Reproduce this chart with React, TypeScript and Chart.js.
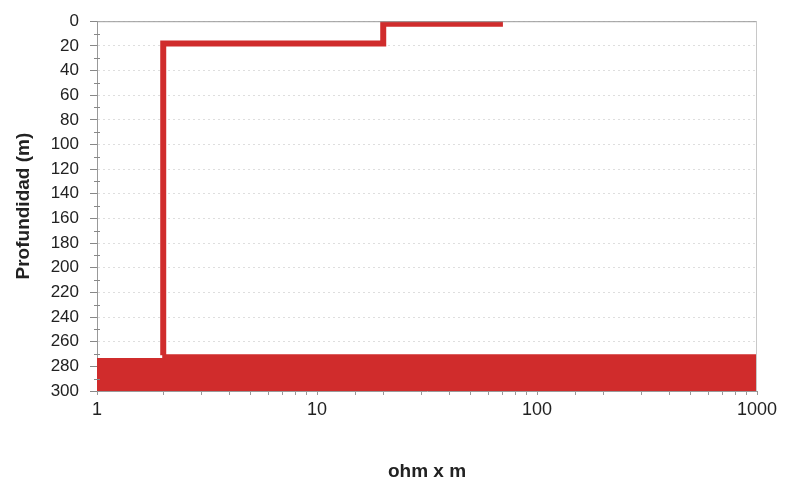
import React, { useEffect, useRef } from "react";
import { Chart, registerables } from "chart.js";

Chart.register(...registerables);

// Step profile: resistivity (ohm x m) vs depth (m)
const profileResistivity = [70, 20, 20, 2, 2];
const profileDepth = [2, 2, 18, 18, 271];

// Bottom filled layer
const layerResistivity = [1, 2, 2, 1000];
const layerDepth = [274, 274, 271, 271];
const layerBottom = 300;

const depthMin = 0;
const depthMax = 300;
const depthStep = 20;
const resMin = 1;
const resMax = 1000;

const RED = "rgb(208,44,44)";

const framePlugin = {
  id: "frame",
  afterDatasetsDraw(chart: any) {
    const { ctx, chartArea, scales } = chart;
    const y = scales.y;
    ctx.save();
    // top and right frame lines
    ctx.strokeStyle = "#9a9a9a";
    ctx.lineWidth = 1;
    ctx.beginPath();
    ctx.moveTo(chartArea.left, chartArea.top + 0.5);
    ctx.lineTo(chartArea.right, chartArea.top + 0.5);
    ctx.stroke();
    ctx.strokeStyle = "#c8c8c8";
    ctx.beginPath();
    ctx.moveTo(chartArea.right - 0.5, chartArea.top);
    ctx.lineTo(chartArea.right - 0.5, chartArea.bottom);
    ctx.stroke();
    // minor y ticks
    ctx.strokeStyle = "#888";
    for (let v = depthMin + depthStep / 2; v < depthMax; v += depthStep) {
      const py = Math.round(y.getPixelForValue(v)) + 0.5;
      ctx.beginPath();
      ctx.moveTo(chartArea.left - 3, py);
      ctx.lineTo(chartArea.left + 3, py);
      ctx.stroke();
    }
    ctx.restore();
  },
};

export default function App() {
  const ref = useRef<HTMLCanvasElement>(null);
  useEffect(() => {
    if (!ref.current) return;
    const chart = new Chart(ref.current, {
      type: "line",
      data: {
        datasets: [
          {
            data: profileResistivity.map((x, i) => ({ x, y: profileDepth[i] })),
            borderColor: RED,
            borderWidth: 6,
            pointRadius: 0,
            fill: false,
            tension: 0,
            borderCapStyle: "butt",
            borderJoinStyle: "miter",
          },
          {
            data: layerResistivity.map((x, i) => ({ x, y: layerDepth[i] })),
            borderColor: RED,
            backgroundColor: RED,
            borderWidth: 2,
            pointRadius: 0,
            fill: { value: layerBottom },
            tension: 0,
          },
        ],
      },
      options: {
        animation: false,
        responsive: false,
        maintainAspectRatio: false,
        parsing: false as any,
        layout: { padding: { left: 8, right: 28, top: 10, bottom: 0 } },
        plugins: { legend: { display: false }, tooltip: { enabled: false } },
        scales: {
          x: {
            type: "logarithmic",
            min: resMin,
            max: resMax,
            afterFit: (s: any) => {
              s.height = 96;
            },
            title: {
              display: true,
              text: "ohm x m",
              font: { family: "Liberation Sans, Arial, sans-serif", size: 19, weight: "bold" },
              color: "#222",
              padding: { top: 4, bottom: 4 },
            },
            ticks: {
              autoSkip: false,
              maxRotation: 0,
              padding: 4,
              color: "#222",
              font: { family: "Liberation Sans, Arial, sans-serif", size: 18 },
              callback: (v: any) => {
                const l = Math.log10(Number(v));
                return Math.abs(l - Math.round(l)) < 1e-9 ? String(Math.round(Number(v))) : "";
              },
            },
            grid: {
              drawOnChartArea: false,
              tickLength: 4,
              tickColor: "#999",
            },
            border: { color: "#999" },
          },
          y: {
            type: "linear",
            min: depthMin,
            max: depthMax,
            reverse: true,
            afterFit: (s: any) => {
              s.width = 89;
            },
            title: {
              display: true,
              text: "Profundidad (m)",
              font: { family: "Liberation Sans, Arial, sans-serif", size: 19, weight: "bold" },
              color: "#222",
              padding: { top: 4, bottom: 4 },
            },
            ticks: {
              stepSize: depthStep,
              autoSkip: false,
              padding: 11,
              color: "#222",
              font: { family: "Liberation Sans, Arial, sans-serif", size: 17 },
            },
            grid: {
              color: "rgba(0,0,0,0.13)",
              tickLength: 7,
              tickColor: "#888",
            },
            border: { color: "#999", dash: [2, 3] },
          },
        },
      },
      plugins: [framePlugin],
    });
    return () => chart.destroy();
  }, []);
  return (
    <div style={{ position: "fixed", left: 0, top: 0, width: 785, height: 487, background: "#fff" }}>
      <canvas ref={ref} width={785} height={487} style={{ width: 785, height: 487 }} />
    </div>
  );
}
